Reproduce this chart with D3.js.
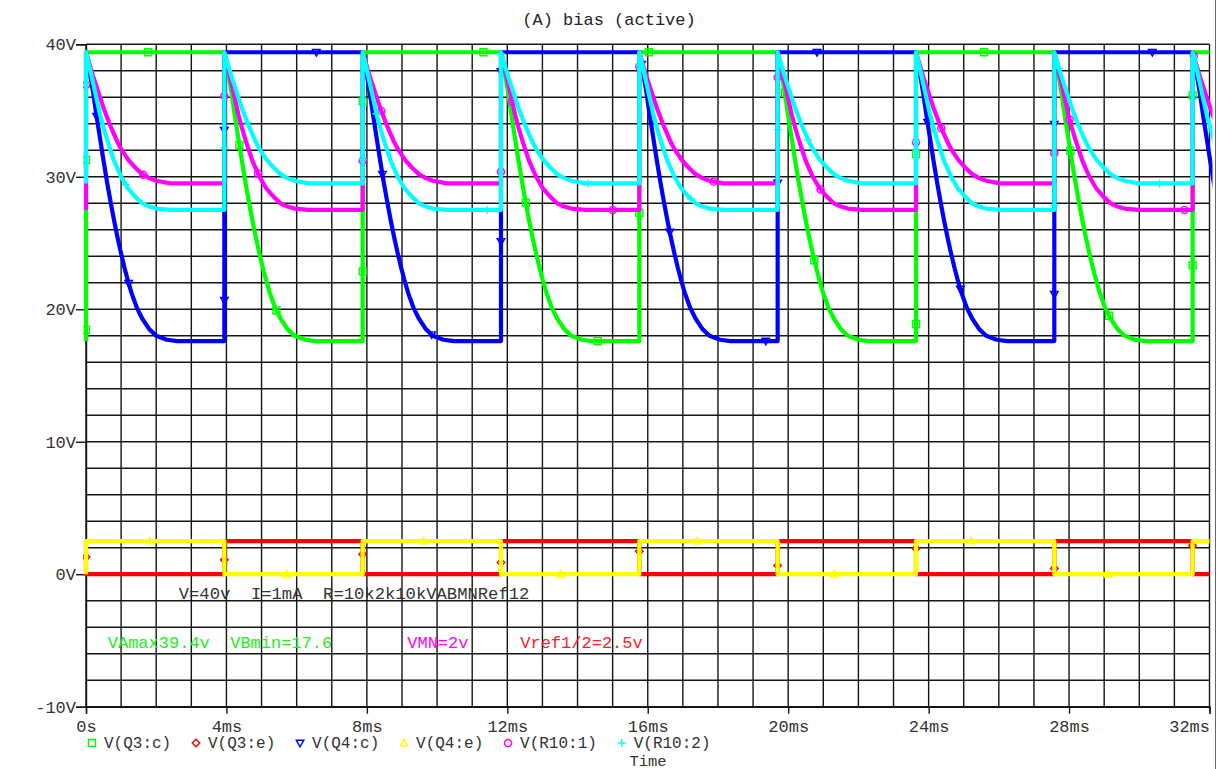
<!DOCTYPE html>
<html>
<head>
<meta charset="utf-8">
<title>(A) bias (active)</title>
<script src="https://cdn.jsdelivr.net/npm/d3@7"></script>
<style>
  html, body { margin: 0; padding: 0; background: #fff; }
  svg { display: block; }
  text { font-family: "Liberation Mono", "Courier New", monospace; font-size: 17px; white-space: pre; }
</style>
</head>
<body>
<svg id="chart" width="1217" height="769"></svg>
<script>
// ---- switching instants of the bias oscillator (ms) ----
const edges = [0, 3.94, 7.88, 11.82, 15.76, 19.70, 23.64, 27.58, 31.52];
const tEnd = 32;

// collector discharge after switching (dt in ms, volts)
const fallShape = [
  [0, 39.4], [0.1, 38.0], [0.2, 36.4], [0.3, 34.6], [0.4, 32.9], [0.5, 31.2],
  [0.6, 29.6], [0.7, 28.1], [0.8, 26.7], [0.9, 25.4], [1.0, 24.2], [1.1, 23.1],
  [1.2, 22.1], [1.3, 21.2], [1.45, 20.1], [1.6, 19.3], [1.8, 18.5], [2.0, 18.0],
  [2.3, 17.7], [2.6, 17.6]
];
// R10 node settling to the upper level (dt in ms, volts)
const settleHigh = [
  [0, 39.4], [0.1, 38.5], [0.2, 37.6], [0.3, 36.8], [0.4, 36.0], [0.5, 35.2],
  [0.6, 34.5], [0.7, 33.8], [0.8, 33.2], [0.9, 32.6], [1.0, 32.1], [1.2, 31.3],
  [1.4, 30.7], [1.6, 30.2], [1.8, 29.9], [2.0, 29.7], [2.4, 29.5]
];
// R10 node settling to the lower level (dt in ms, volts)
const settleLow = [
  [0, 39.4], [0.1, 38.3], [0.2, 37.1], [0.3, 35.9], [0.4, 34.7], [0.5, 33.7],
  [0.6, 32.8], [0.7, 32.0], [0.8, 31.2], [0.9, 30.6], [1.0, 30.0], [1.2, 29.1],
  [1.4, 28.5], [1.6, 28.0], [1.8, 27.75], [2.0, 27.6], [2.4, 27.5]
];
const levelTop = [[0, 39.4]];
const levelRef = [[0, 2.5]];
const levelZero = [[0, 0]];

// series: name, value before t=0, even half-period, odd half-period
const seriesNames  = ["V(Q3:c)", "V(Q3:e)", "V(Q4:c)", "V(Q4:e)", "V(R10:1)", "V(R10:2)"];
const seriesStart  = [17.6, 2.5, 39.4, 0, 27.5, 29.5];
const seriesEven   = [levelTop, levelZero, fallShape, levelRef, settleHigh, settleLow];
const seriesOdd    = [fallShape, levelRef, levelTop, levelZero, settleLow, settleHigh];
const seriesColors = ["#00ff00", "#ff0000", "#0000ff", "#ffff00", "#ff00ff", "#00ffff"];
const markerKinds  = ["square", "diamond", "triDown", "triUp", "circle", "plus"];
const markerOffset = [11, 16, 65, 97, 125, 100];

const xTicks = [0, 4, 8, 12, 16, 20, 24, 28, 32];
const xTickLabels = ["0s", "4ms", "8ms", "12ms", "16ms", "20ms", "24ms", "28ms", "32ms"];
const yTicks = [-10, 0, 10, 20, 30, 40];
const yTickLabels = ["-10V", "0V", "10V", "20V", "30V", "40V"];

const title = "(A) bias (active)";
const xTitle = "Time";
const notes = [
  { text: "V=40v  I=1mA  R=10k2k10kVABMNRef12", color: "#333333", t: 2.64, v: -1.9, size: 17.2 },
  { text: "VAmax39.4v  VBmin=17.6", color: "#22ee22", t: 0.62, v: -5.6, size: 17 },
  { text: "VMN=2v", color: "#ff00ff", t: 9.15, v: -5.6, size: 17 },
  { text: "Vref1/2=2.5v", color: "#ff2020", t: 12.37, v: -5.6, size: 17 }
];

// ---- scales ----
const svg = d3.select("#chart");
const x = d3.scaleLinear().domain([0, 32]).range([86, 1209.5]);
const y = d3.scaleLinear().domain([-10, 40]).range([706.7, 44.3]);

// ---- grid ----
const grid = svg.append("g").attr("stroke", "#151515").attr("stroke-width", 1.4);
grid.selectAll("line.v").data(d3.range(0, 33, 1)).enter().append("line")
  .attr("x1", d => x(d)).attr("x2", d => x(d))
  .attr("y1", y(40)).attr("y2", y(-10));
grid.selectAll("line.h").data(d3.range(-10, 41, 2)).enter().append("line")
  .attr("x1", x(0)).attr("x2", x(32))
  .attr("y1", d => y(d)).attr("y2", d => y(d));

// ---- axes ----
const xAxis = d3.axisBottom(x).tickValues(xTicks)
  .tickFormat((d, i) => xTickLabels[i]).tickSize(7).tickPadding(6);
const gx = svg.append("g").attr("transform", `translate(0,${y(-10)})`).call(xAxis);
gx.select(".domain").attr("stroke", "#151515").attr("stroke-width", 1.4);
gx.selectAll(".tick line").attr("stroke", "#151515").attr("stroke-width", 1.4);
gx.selectAll(".tick text").attr("fill", "#333").style("font-size", "17px")
  .style("font-family", "'Liberation Mono','Courier New',monospace");
gx.selectAll(".tick text").filter((d, i) => i === xTicks.length - 1)
  .attr("text-anchor", "end").attr("x", 0);

const yAxis = d3.axisLeft(y).tickValues(yTicks)
  .tickFormat((d, i) => yTickLabels[i]).tickSize(10).tickPadding(0);
const gy = svg.append("g").attr("transform", `translate(${x(0)},0)`).call(yAxis);
gy.select(".domain").attr("stroke", "#151515").attr("stroke-width", 1.4);
gy.selectAll(".tick line").attr("stroke", "#151515").attr("stroke-width", 1.4);
gy.selectAll(".tick text").attr("fill", "#333").style("font-size", "17px")
  .style("font-family", "'Liberation Mono','Courier New',monospace");

// ---- traces ----
function buildTrace(start, evenShape, oddShape) {
  const pts = [[0, start]];
  edges.forEach((t0, k) => {
    const shape = k % 2 === 0 ? evenShape : oddShape;
    const t1 = k + 1 < edges.length ? edges[k + 1] : null;
    shape.forEach(([dt, v]) => {
      if (t1 === null || t0 + dt < t1) pts.push([t0 + dt, v]);
    });
    const last = shape[shape.length - 1][1];
    if (t1 !== null) pts.push([t1, last]);
  });
  const tail = pts[pts.length - 1];
  if (tail[0] < tEnd) pts.push([tEnd, tail[1]]);
  return pts;
}

svg.append("clipPath").attr("id", "plotClip").append("rect")
  .attr("x", x(0) - 3).attr("y", 0)
  .attr("width", x(32) - x(0) + 6).attr("height", 769);

const line = d3.line().x(d => x(d[0])).y(d => y(d[1]));

function markerPath(kind) {
  switch (kind) {
    case "square":  return "M-3.5,-3.5H3.5V3.5H-3.5Z";
    case "diamond": return "M0,-3.8L3.8,0L0,3.8L-3.8,0Z";
    case "triDown": return "M-3.8,-2.8H3.8L0,3.8Z";
    case "triUp":   return "M-3.8,2.8H3.8L0,-3.8Z";
    case "circle":  return d3.symbol(d3.symbolCircle, 40)();
    case "plus":    return "M-4,0H4M0,-4V4";
  }
}

const traces = svg.append("g").attr("clip-path", "url(#plotClip)");
seriesNames.forEach((name, i) => {
  const data = buildTrace(seriesStart[i], seriesEven[i], seriesOdd[i]);
  const path = traces.append("path")
    .datum(data)
    .attr("d", line)
    .attr("fill", "none")
    .attr("stroke", seriesColors[i])
    .attr("stroke-width", 4.2)
    .attr("stroke-linejoin", "round");
  // symbols spaced along the trace
  const node = path.node();
  const total = node.getTotalLength();
  const spots = [];
  for (let s = markerOffset[i]; s < total; s += 170) {
    const p = node.getPointAtLength(s);
    if (p.x <= x(32)) spots.push(p);
  }
  traces.append("g").selectAll("path").data(spots).enter().append("path")
    .attr("transform", p => `translate(${p.x},${p.y})`)
    .attr("d", markerPath(markerKinds[i]))
    .attr("fill", "none")
    .attr("stroke", seriesColors[i])
    .attr("stroke-width", 1.4);
});

// ---- title and notes ----
svg.append("text").attr("x", 609).attr("y", 25).attr("text-anchor", "middle")
  .attr("fill", "#222").text(title);

svg.append("g").selectAll("text").data(notes).enter().append("text")
  .attr("x", d => x(d.t)).attr("y", d => y(d.v))
  .style("font-size", d => d.size + "px")
  .attr("fill", d => d.color).text(d => d.text);

// ---- legend ----
const legend = svg.append("g");
let cx = 92;
seriesNames.forEach((name, i) => {
  legend.append("path")
    .attr("transform", `translate(${cx},743)`)
    .attr("d", markerPath(markerKinds[i]))
    .attr("fill", "none")
    .attr("stroke", seriesColors[i])
    .attr("stroke-width", 1.4);
  const t = legend.append("text").attr("x", cx + 12).attr("y", 747.5)
    .style("font-size", "16px")
    .attr("fill", "#333").text(name);
  cx = cx + 12 + t.node().getComputedTextLength() + 24.8;
});

svg.append("text").attr("x", 648).attr("y", 765.5).attr("text-anchor", "middle")
  .style("font-size", "15.5px")
  .attr("fill", "#333").text(xTitle);

// window frame edge on the right
svg.append("line").attr("x1", 1215.5).attr("x2", 1215.5).attr("y1", 0).attr("y2", 769)
  .attr("stroke", "#666").attr("stroke-width", 1);
</script>
</body>
</html>
